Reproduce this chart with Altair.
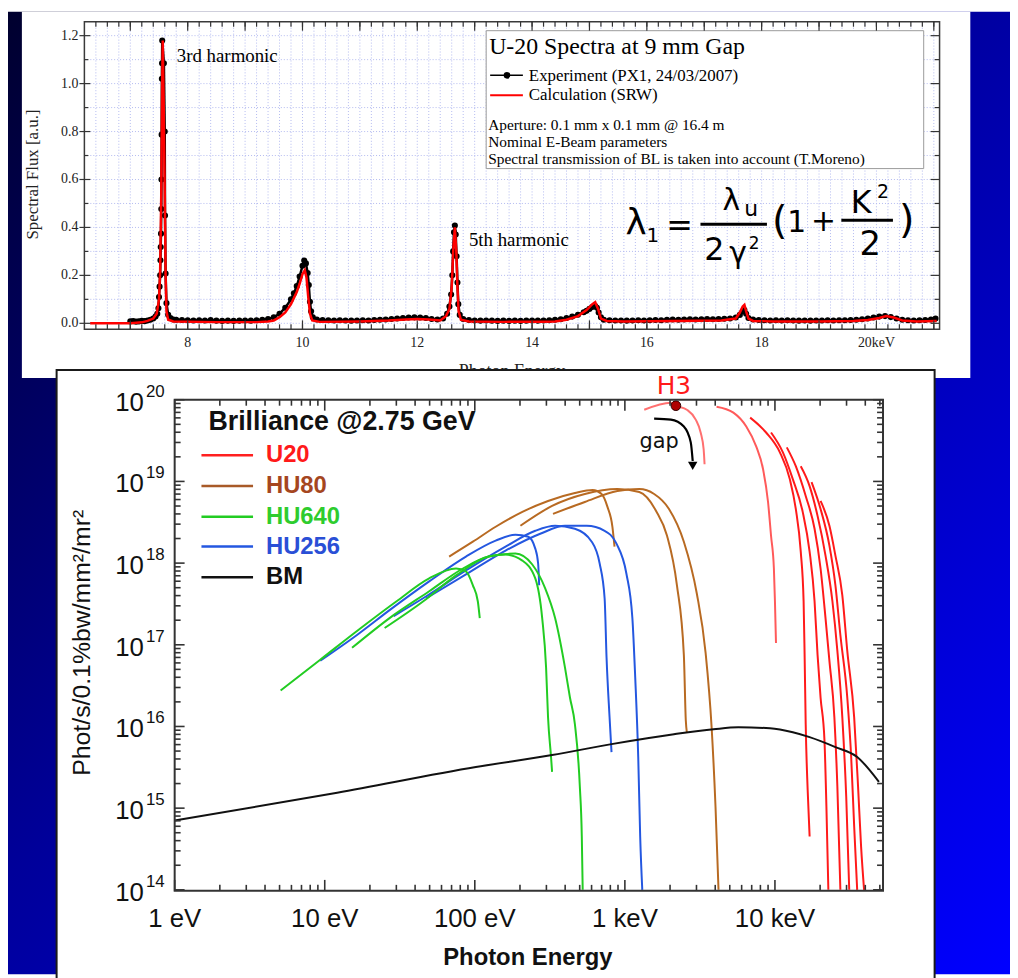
import altair as alt
import pandas as pd

# ------------------------------------------------------------------
# TOP CHART DATA : U-20 spectra at 9 mm gap (photon energy keV, flux a.u.)
# ------------------------------------------------------------------
calc_energy = [6.3, 7.0, 7.2, 7.3, 7.4, 7.46, 7.5, 7.52, 7.54, 7.555,
               7.565, 7.58, 7.6, 7.615, 7.63, 7.66, 7.75, 8.5, 9.2, 9.4,
               9.5, 9.6, 9.7, 9.8, 9.9, 9.95, 10.0, 10.04, 10.07, 10.1,
               10.13, 10.17, 10.3, 11.0, 11.5, 11.8, 12.0, 12.2, 12.4, 12.5,
               12.56, 12.6, 12.63, 12.655, 12.68, 12.7, 12.72, 12.76, 12.9, 13.5,
               14.2, 14.4, 14.6, 14.8, 14.95, 15.05, 15.1, 15.15, 15.2, 15.3,
               15.6, 16.5, 17.3, 17.55, 17.62, 17.67, 17.7, 17.73, 17.77, 17.85,
               18.2, 19.0, 19.6, 19.85, 20.05, 20.17, 20.3, 20.45, 20.7, 21.05]
calc_flux = [0.0, 0.0, 0.004, 0.01, 0.02, 0.04, 0.10, 0.22, 0.55, 1.0,
             1.18, 0.95, 0.55, 0.2, 0.05, 0.015, 0.008, 0.005, 0.005, 0.008,
             0.012, 0.025, 0.045, 0.08, 0.13, 0.165, 0.205, 0.222, 0.19, 0.11,
             0.04, 0.012, 0.006, 0.008, 0.012, 0.016, 0.018, 0.016, 0.012, 0.03,
             0.06, 0.15, 0.32, 0.40, 0.3, 0.15, 0.05, 0.015, 0.008, 0.006,
             0.007, 0.008, 0.015, 0.03, 0.055, 0.08, 0.088, 0.06, 0.02, 0.01,
             0.008, 0.01, 0.012, 0.02, 0.045, 0.07, 0.077, 0.05, 0.02, 0.01,
             0.008, 0.008, 0.01, 0.014, 0.022, 0.03, 0.024, 0.012, 0.008, 0.01]

exp_energy = [7.00, 7.05, 7.10, 7.15, 7.20, 7.25, 7.30, 7.35, 7.40, 7.44,
              7.47, 7.49, 7.50, 7.51, 7.52, 7.525, 7.53, 7.535, 7.54, 7.543,
              7.546, 7.55, 7.553, 7.556, 7.585, 7.60, 7.605, 7.615, 7.63, 7.66,
              7.70, 7.75, 7.8, 7.9, 8.0, 8.1, 8.2, 8.3, 8.4, 8.5,
              8.6, 8.7, 8.8, 8.9, 9.0, 9.1, 9.2, 9.3, 9.4, 9.5,
              9.6, 9.7, 9.8, 9.85, 9.9, 9.95, 10.0, 10.03, 10.06, 10.09,
              10.11, 10.13, 10.15, 10.18, 10.25, 10.35, 10.45, 10.55, 10.65, 10.75,
              10.85, 10.95, 11.05, 11.15, 11.25, 11.35, 11.45, 11.55, 11.65, 11.75,
              11.85, 11.95, 12.05, 12.15, 12.25, 12.35, 12.45, 12.52, 12.56, 12.59,
              12.61, 12.625, 12.64, 12.655, 12.67, 12.685, 12.70, 12.715, 12.74, 12.8,
              12.9, 13.0, 13.1, 13.2, 13.3, 13.4, 13.5, 13.6, 13.7, 13.8,
              13.9, 14.0, 14.1, 14.2, 14.3, 14.4, 14.5, 14.6, 14.7, 14.8,
              14.9, 14.95, 15.0, 15.05, 15.1, 15.13, 15.16, 15.2, 15.25, 15.35,
              15.45, 15.55, 15.65, 15.75, 15.85, 15.95, 16.05, 16.15, 16.25, 16.35,
              16.45, 16.55, 16.65, 16.75, 16.85, 16.95, 17.05, 17.15, 17.25, 17.35,
              17.45, 17.55, 17.62, 17.67, 17.70, 17.73, 17.77, 17.85, 17.95, 18.05,
              18.15, 18.25, 18.35, 18.45, 18.55, 18.65, 18.75, 18.85, 18.95, 19.05,
              19.15, 19.25, 19.35, 19.45, 19.55, 19.65, 19.75, 19.85, 19.95, 20.05,
              20.15, 20.25, 20.35, 20.45, 20.55, 20.65, 20.75, 20.85, 20.95, 21.03]
exp_flux = [0.008, 0.009, 0.007, 0.008, 0.010, 0.009, 0.012, 0.015, 0.020, 0.028,
            0.040, 0.063, 0.110, 0.153, 0.200, 0.263, 0.318, 0.374, 0.477, 0.600,
            0.787, 1.020, 1.085, 1.180, 1.085, 0.800, 0.450, 0.208, 0.084, 0.036,
            0.022, 0.016, 0.015, 0.014, 0.013, 0.012, 0.013, 0.012, 0.014, 0.011,
            0.010, 0.011, 0.010, 0.011, 0.012, 0.011, 0.013, 0.015, 0.018, 0.025,
            0.040, 0.065, 0.100, 0.125, 0.155, 0.195, 0.240, 0.262, 0.250, 0.210,
            0.160, 0.090, 0.050, 0.025, 0.016, 0.014, 0.013, 0.012, 0.013, 0.012,
            0.011, 0.012, 0.013, 0.012, 0.014, 0.015, 0.016, 0.018, 0.020, 0.022,
            0.024, 0.025, 0.024, 0.022, 0.018, 0.016, 0.020, 0.040, 0.070, 0.120,
            0.200, 0.300, 0.380, 0.408, 0.370, 0.280, 0.170, 0.080, 0.035, 0.018,
            0.014, 0.012, 0.011, 0.012, 0.011, 0.010, 0.011, 0.010, 0.011, 0.010,
            0.011, 0.012, 0.011, 0.012, 0.013, 0.015, 0.017, 0.022, 0.028, 0.036,
            0.046, 0.052, 0.060, 0.068, 0.072, 0.065, 0.045, 0.025, 0.015, 0.013,
            0.012, 0.012, 0.011, 0.012, 0.013, 0.012, 0.013, 0.014, 0.013, 0.015,
            0.016, 0.015, 0.016, 0.017, 0.016, 0.017, 0.018, 0.017, 0.018, 0.019,
            0.020, 0.024, 0.035, 0.050, 0.055, 0.040, 0.022, 0.016, 0.014, 0.013,
            0.012, 0.013, 0.012, 0.013, 0.012, 0.011, 0.012, 0.011, 0.012, 0.012,
            0.013, 0.012, 0.013, 0.013, 0.014, 0.015, 0.017, 0.020, 0.024, 0.028,
            0.030, 0.026, 0.020, 0.015, 0.013, 0.012, 0.013, 0.014, 0.016, 0.020]

top_xtick_values = [8, 10, 12, 14, 16, 18, 20]
top_xtick_labels = ["8", "10", "12", "14", "16", "18", "20keV"]
top_ytick_values = [0.0, 0.2, 0.4, 0.6, 0.8, 1.0, 1.2]
top_ytick_labels = ["0.0", "0.2", "0.4", "0.6", "0.8", "1.0", "1.2"]
top_ann_energy = [7.81, 12.90]
top_ann_flux = [1.113, 0.348]
top_ann_text = ["3rd harmonic", "5th harmonic"]

# ------------------------------------------------------------------
# BOTTOM CHART DATA : brilliance curves, (log10 E[eV], log10 brilliance)
# ------------------------------------------------------------------
U20_H3 = [(3.129, 19.878), (3.307, 19.964), (3.340, 19.927), (3.413, 19.878),
          (3.472, 19.757), (3.505, 19.599), (3.525, 19.392), (3.531, 19.210)]
U20_2 = [(3.611, 19.915), (3.723, 19.842), (3.809, 19.672), (3.875, 19.429), (3.921, 19.149),
         (3.954, 18.748), (3.974, 18.335), (3.993, 17.934), (4.000, 17.533), (4.007, 17.023)]
U20_3 = [(3.835, 19.781), (3.941, 19.599), (4.033, 19.356), (4.099, 19.028), (4.139, 18.663),
         (4.172, 18.141), (4.191, 17.533), (4.198, 16.841), (4.205, 16.027), (4.218, 15.225),
         (4.231, 14.654)]
U20_4 = [(3.974, 19.599), (4.053, 19.356), (4.119, 19.028), (4.185, 18.627), (4.231, 18.141),
         (4.264, 17.533), (4.284, 16.877), (4.304, 16.355), (4.330, 15.832), (4.343, 15.018),
         (4.356, 14.0)]
U20_5 = [(4.079, 19.417), (4.139, 19.186), (4.205, 18.821), (4.264, 18.420), (4.304, 17.934),
         (4.337, 17.327), (4.363, 16.804), (4.396, 16.112), (4.416, 15.261), (4.436, 14.0)]
U20_6 = [(4.172, 19.186), (4.231, 18.943), (4.284, 18.578), (4.337, 18.092), (4.383, 17.533),
         (4.416, 16.926), (4.449, 16.112), (4.475, 15.140), (4.495, 14.0)]
U20_7 = [(4.244, 18.991), (4.304, 18.663), (4.363, 18.214), (4.403, 17.728), (4.436, 17.120),
         (4.482, 16.355), (4.508, 15.626), (4.528, 14.775), (4.548, 14.0)]
U20_8 = [(4.304, 18.761), (4.363, 18.457), (4.403, 18.092), (4.449, 17.606), (4.482, 16.926),
         (4.528, 16.112), (4.554, 15.261), (4.574, 14.532), (4.594, 14.0)]

HU80_1 = [(1.829, 18.080), (1.987, 18.262), (2.139, 18.445), (2.317, 18.627), (2.488, 18.761),
          (2.667, 18.858), (2.785, 18.894), (2.845, 18.846), (2.884, 18.688), (2.917, 18.445),
          (2.931, 18.202)]
HU80_2 = [(2.304, 18.457), (2.515, 18.700), (2.733, 18.846), (2.950, 18.906), (3.096, 18.870),
          (3.208, 18.639), (3.281, 18.335), (3.347, 17.728), (3.393, 16.877), (3.406, 16.075),
          (3.413, 15.929)]
HU80_3 = [(2.521, 18.603), (2.733, 18.748), (2.950, 18.882), (3.096, 18.906), (3.195, 18.846),
          (3.294, 18.663), (3.393, 18.262), (3.479, 17.631), (3.538, 16.901), (3.578, 15.990),
          (3.604, 15.018), (3.624, 14.0)]

HU256_A = [(0.970, 16.804), (1.215, 17.120), (1.432, 17.424), (1.696, 17.776), (1.941, 18.080),
           (2.139, 18.275), (2.271, 18.347), (2.356, 18.323), (2.403, 18.177), (2.422, 17.995),
           (2.429, 17.728)]
HU256_B = [(1.459, 17.351), (1.677, 17.594), (1.941, 17.910), (2.205, 18.202), (2.403, 18.396),
           (2.535, 18.457), (2.667, 18.420), (2.779, 18.262), (2.832, 17.995), (2.865, 17.570),
           (2.878, 16.841), (2.898, 16.112), (2.911, 15.686)]
HU256_C = [(1.677, 17.570), (1.941, 17.861), (2.205, 18.153), (2.436, 18.359), (2.601, 18.457),
           (2.746, 18.457), (2.865, 18.396), (2.944, 18.238), (3.010, 17.873), (3.050, 17.327),
           (3.069, 16.598), (3.089, 15.626), (3.102, 14.654), (3.116, 14.0)]

HU640_A = [(0.706, 16.440), (0.970, 16.817), (1.215, 17.169), (1.479, 17.533), (1.696, 17.813),
           (1.875, 17.934), (1.941, 17.898), (1.987, 17.728), (2.020, 17.533), (2.033, 17.327)]
HU640_B = [(1.182, 16.963), (1.432, 17.327), (1.696, 17.655), (1.921, 17.934), (2.092, 18.080),
           (2.205, 18.104), (2.317, 18.031), (2.403, 17.813), (2.449, 17.327), (2.475, 16.720),
           (2.488, 16.112), (2.508, 15.626), (2.515, 15.444)]
HU640_C = [(1.399, 17.205), (1.657, 17.533), (1.875, 17.849), (2.092, 18.080), (2.271, 18.117),
           (2.383, 17.983), (2.469, 17.691), (2.535, 17.327), (2.601, 16.720), (2.634, 16.355),
           (2.667, 16.027), (2.700, 15.261), (2.713, 14.654), (2.719, 14.0)]

BM = [(0.0, 14.848), (1.083, 15.188), (2.007, 15.504), (2.515, 15.650), (2.911, 15.784),
      (3.327, 15.905), (3.591, 15.966), (3.756, 15.990), (3.967, 15.978), (4.119, 15.929),
      (4.231, 15.869), (4.403, 15.747), (4.548, 15.626), (4.693, 15.322)]

H3_point = (3.340, 19.927)
gap_arrow = [(3.195, 19.769), (3.307, 19.757), (3.393, 19.672), (3.439, 19.478), (3.452, 19.250)]
gap_arrow_head = (3.452, 19.190)
gap_label_pos = (3.228, 19.478)
H3_label_pos = (3.327, 20.17)

bottom_x_label_values = [1, 10, 100, 1000, 10000]
bottom_x_labels = ["1 eV", "10 eV", "100 eV", "1 keV", "10 keV"]
bottom_y_exponents = [14, 15, 16, 17, 18, 19, 20]
bottom_y_exp_labels = ["14", "15", "16", "17", "18", "19", "20"]

# ------------------------------------------------------------------
# helpers / layout
# ------------------------------------------------------------------
OX, OY = 8, 8
W, H = 1010, 970
ONE = alt.Data(values=[{"k": 1}])


def sx(x):
    return x - OX


def sy(y):
    return y - OY


def txt(x, y, s, size, color="black", font="Liberation Sans", weight="normal",
        align="center", baseline="middle", angle=None, style="normal"):
    kw = dict(text=s, fontSize=size, color=color, font=font, fontWeight=weight,
              align=align, baseline=baseline, fontStyle=style)
    if angle is not None:
        kw["angle"] = angle
    return alt.Chart(ONE).mark_text(**kw).encode(x=alt.value(sx(x)), y=alt.value(sy(y)))


def box(x0, y0, x1, y1, fill="white", stroke=None, sw=1.0, fill_opacity=1.0):
    kw = dict(fill=fill, fillOpacity=fill_opacity)
    if stroke is not None:
        kw.update(stroke=stroke, strokeWidth=sw)
    return alt.Chart(ONE).mark_rect(**kw).encode(
        x=alt.value(sx(x0)), x2=alt.value(sx(x1)), y=alt.value(sy(y0)), y2=alt.value(sy(y1)))


def seg(x0, y0, x1, y1, color="black", sw=1.0):
    return alt.Chart(ONE).mark_rule(color=color, strokeWidth=sw).encode(
        x=alt.value(sx(x0)), x2=alt.value(sx(x1)), y=alt.value(sy(y0)), y2=alt.value(sy(y1)))


def vticks(values, scale, y0, y1, color="#333333", sw=1.2, dash=None):
    kw = dict(color=color, strokeWidth=sw)
    if dash:
        kw["strokeDash"] = dash
    return alt.Chart(pd.DataFrame({"v": list(values)})).mark_rule(**kw).encode(
        x=alt.X("v:Q", scale=scale, axis=None), y=alt.value(sy(y0)), y2=alt.value(sy(y1)))


def hticks(values, scale, x0, x1, color="#333333", sw=1.2, dash=None):
    kw = dict(color=color, strokeWidth=sw)
    if dash:
        kw["strokeDash"] = dash
    return alt.Chart(pd.DataFrame({"v": list(values)})).mark_rule(**kw).encode(
        y=alt.Y("v:Q", scale=scale, axis=None), x=alt.value(sx(x0)), x2=alt.value(sx(x1)))


# scales (pixel ranges in chart coordinates)
TX = alt.Scale(domain=[6.2, 21.1], range=[sx(85), sx(947)], zero=False, nice=False)
TY = alt.Scale(domain=[-0.025, 1.258], range=[sy(328), sy(18)], zero=False, nice=False)
BX = alt.Scale(type="log", domain=[1, 52500], range=[sx(176), sx(890)], nice=False)
BY = alt.Scale(type="log", domain=[1e14, 1e20], range=[sy(893), sy(399)], nice=False)

layers = []
L = layers.append

# ---------------- slide background ----------------
grad = alt.LinearGradient(
    gradient="linear", x1=0, y1=0, x2=1, y2=1,
    stops=[alt.GradientStop(color="#00002e", offset=0),
           alt.GradientStop(color="#00009a", offset=0.45),
           alt.GradientStop(color="#0000ff", offset=1)])
L(alt.Chart(ONE).mark_rect(fill=grad).encode(
    x=alt.value(0), x2=alt.value(W), y=alt.value(0), y2=alt.value(H)))

# ---------------- top panel ----------------
L(box(22, 8, 978, 377, fill="white"))

grid_x = [round(6.4 + 0.2 * i, 1) for i in range(74)]
grid_y = [round(0.1 * i, 1) for i in range(13)]
L(vticks(grid_x, TX, 18, 328, color="#b3baf0", sw=1, dash=[1, 2]))
L(hticks(grid_y, TY, 85, 947, color="#b3baf0", sw=1, dash=[1, 2]))

# legend box
L(box(490, 27, 931, 166, fill="white", stroke="#9a9a9a", sw=1))
SERIF = "Liberation Serif"
L(txt(493, 43, "U-20 Spectra at 9 mm Gap", 24, font=SERIF, align="left"))
L(seg(494, 72, 527, 72, "black", 1.5))
L(alt.Chart(ONE).mark_circle(color="black", size=45, opacity=1).encode(
    x=alt.value(sx(511)), y=alt.value(sy(72))))
L(txt(533, 73, "Experiment (PX1, 24/03/2007)", 17, font=SERIF, align="left"))
L(seg(494, 92, 527, 92, "#ff0000", 2))
L(txt(533, 92, "Calculation (SRW)", 17, font=SERIF, align="left"))
L(txt(492, 122, "Aperture: 0.1 mm x 0.1 mm @ 16.4 m", 15.5, font=SERIF, align="left"))
L(txt(492, 139, "Nominal E-Beam parameters", 15.5, font=SERIF, align="left"))
L(txt(492, 156, "Spectral transmission of BL is taken into account (T.Moreno)", 15.5,
      font=SERIF, align="left"))

# formula  lambda_1 = lambda_u / (2 gamma^2) (1 + K^2/2)
FF = "DejaVu Sans"
L(txt(641, 221, "λ", 36, font=FF))
L(txt(658, 234, "1", 20, font=FF))
L(txt(685, 224, "=", 32, font=FF))
L(seg(706, 222, 773, 222, "black", 3))
L(txt(737, 199, "λ", 30, font=FF))
L(txt(757, 207, "u", 22, font=FF))
L(txt(720, 248, "2", 32, font=FF))
L(txt(744, 252, "γ", 30, font=FF))
L(txt(760, 242, "2", 17, font=FF))
L(txt(786, 220, "(", 40, font=FF))
L(txt(803, 221, "1", 30, font=FF))
L(txt(830, 220, "+", 30, font=FF))
L(seg(848, 218, 900, 218, "black", 3))
L(txt(868, 201, "K", 32, font=FF))
L(txt(890, 190, "2", 19, font=FF))
L(txt(877, 243, "2", 34, font=FF))
L(txt(914, 219, ")", 40, font=FF))

# data
exp_df = pd.DataFrame({"E": exp_energy, "F": exp_flux})
calc_df = pd.DataFrame({"E": calc_energy, "F": calc_flux})
L(alt.Chart(exp_df).mark_line(color="black", strokeWidth=2.5).encode(
    x=alt.X("E:Q", scale=TX, axis=None), y=alt.Y("F:Q", scale=TY, axis=None)))
L(alt.Chart(exp_df).mark_circle(color="black", size=38, opacity=1).encode(
    x=alt.X("E:Q", scale=TX, axis=None), y=alt.Y("F:Q", scale=TY, axis=None)))
L(alt.Chart(calc_df).mark_line(color="#ff0000", strokeWidth=2.5).encode(
    x=alt.X("E:Q", scale=TX, axis=None), y=alt.Y("F:Q", scale=TY, axis=None)))

ann_df = pd.DataFrame({"E": top_ann_energy, "F": top_ann_flux, "t": top_ann_text})
L(alt.Chart(ann_df).mark_text(font=SERIF, fontSize=19, align="left", baseline="middle",
                              color="black").encode(
    x=alt.X("E:Q", scale=TX, axis=None), y=alt.Y("F:Q", scale=TY, axis=None), text="t:N"))

# frame & ticks
L(box(85, 18, 947, 328, fill="white", fill_opacity=0, stroke="#3a3a3a", sw=1.5))
L(vticks(grid_x, TX, 328, 323))
L(vticks(list(range(7, 22)), TX, 328, 319))
L(vticks(grid_x, TX, 18, 23))
L(vticks(list(range(7, 22)), TX, 18, 27))
minor_y = [0.1, 0.3, 0.5, 0.7, 0.9, 1.1]
L(hticks(top_ytick_values, TY, 80, 91))
L(hticks(minor_y, TY, 85, 89))
L(hticks(top_ytick_values, TY, 938, 947))
L(hticks(minor_y, TY, 942, 947))

ytl = pd.DataFrame({"v": top_ytick_values, "t": top_ytick_labels})
L(alt.Chart(ytl).mark_text(font=SERIF, fontSize=14, align="right", baseline="middle",
                           color="#222").encode(
    x=alt.value(sx(79)), y=alt.Y("v:Q", scale=TY, axis=None), text="t:N"))
xtl = pd.DataFrame({"v": top_xtick_values, "t": top_xtick_labels})
L(alt.Chart(xtl).mark_text(font=SERIF, fontSize=14, align="center", baseline="middle",
                           color="#222").encode(
    x=alt.X("v:Q", scale=TX, axis=None), y=alt.value(sy(342)), text="t:N"))
L(txt(33, 172, "Spectral Flux [a.u.]", 17, font=SERIF, angle=270, color="#222"))
L(txt(516, 362, "Photon Energy", 18, font=SERIF, baseline="top", color="#222"))

# ---------------- bottom panel ----------------
L(box(57, 369, 942, 992, fill="white", stroke="#1a1a1a", sw=2))

curve_specs = [
    ("U20", "#ff7070", U20_H3), ("U20", "#ff5a5a", U20_2), ("U20", "#ff1a1a", U20_3),
    ("U20", "#ff1a1a", U20_4), ("U20", "#ff1a1a", U20_5), ("U20", "#ff1a1a", U20_6),
    ("U20", "#ff1a1a", U20_7), ("U20", "#ff1a1a", U20_8),
    ("HU80", "#b86a22", HU80_1), ("HU80", "#b86a22", HU80_2), ("HU80", "#b86a22", HU80_3),
    ("HU256", "#2457e0", HU256_A), ("HU256", "#2457e0", HU256_B), ("HU256", "#2457e0", HU256_C),
    ("HU640", "#22cc22", HU640_A), ("HU640", "#22cc22", HU640_B), ("HU640", "#22cc22", HU640_C),
]
rows = []
for cid, (name, col, pts) in enumerate(curve_specs):
    for i, (le, lb) in enumerate(pts):
        rows.append({"curve": cid, "name": name, "col": col, "idx": i,
                     "E": 10 ** le, "B": 10 ** lb})
curves_df = pd.DataFrame(rows)
bm_df = pd.DataFrame({"idx": list(range(len(BM))),
                      "E": [10 ** p[0] for p in BM], "B": [10 ** p[1] for p in BM]})

L(alt.Chart(curves_df).mark_line(strokeWidth=2, interpolate="monotone").encode(
    x=alt.X("E:Q", scale=BX, axis=None), y=alt.Y("B:Q", scale=BY, axis=None),
    detail="curve:N", color=alt.Color("col:N", scale=None), order="idx:Q"))
L(alt.Chart(bm_df).mark_line(strokeWidth=2, interpolate="monotone", color="#111111").encode(
    x=alt.X("E:Q", scale=BX, axis=None), y=alt.Y("B:Q", scale=BY, axis=None), order="idx:Q"))

# H3 marker, gap arrow
h3_df = pd.DataFrame({"E": [10 ** H3_point[0]], "B": [10 ** H3_point[1]]})
L(alt.Chart(h3_df).mark_circle(size=95, fill="#b00000", stroke="#300000", strokeWidth=1,
                               opacity=1).encode(
    x=alt.X("E:Q", scale=BX, axis=None), y=alt.Y("B:Q", scale=BY, axis=None)))
arrow_df = pd.DataFrame({"idx": list(range(len(gap_arrow))),
                         "E": [10 ** p[0] for p in gap_arrow], "B": [10 ** p[1] for p in gap_arrow]})
L(alt.Chart(arrow_df).mark_line(color="black", strokeWidth=2.2, interpolate="monotone").encode(
    x=alt.X("E:Q", scale=BX, axis=None), y=alt.Y("B:Q", scale=BY, axis=None), order="idx:Q"))
head_df = pd.DataFrame({"E": [10 ** gap_arrow_head[0]], "B": [10 ** gap_arrow_head[1]]})
L(alt.Chart(head_df).mark_point(shape="triangle-down", filled=True, color="black", size=90,
                                opacity=1).encode(
    x=alt.X("E:Q", scale=BX, axis=None), y=alt.Y("B:Q", scale=BY, axis=None)))
lbl_df = pd.DataFrame({"E": [10 ** gap_label_pos[0], 10 ** H3_label_pos[0]],
                       "B": [10 ** gap_label_pos[1], 10 ** H3_label_pos[1]],
                       "t": ["gap", "H3"], "c": ["#111111", "#ff1a1a"],
                       "s": [21, 25]})
L(alt.Chart(lbl_df).mark_text(font="DejaVu Sans", align="center", baseline="middle").encode(
    x=alt.X("E:Q", scale=BX, axis=None), y=alt.Y("B:Q", scale=BY, axis=None), text="t:N",
    color=alt.Color("c:N", scale=None), size=alt.Size("s:Q", scale=None)))

# frame and ticks
L(box(176, 399, 890, 894, fill="white", fill_opacity=0, stroke="#333333", sw=2))
bx_major = [1, 10, 100, 1000, 10000]
bx_minor = [k * 10 ** n for n in range(0, 5) for k in range(2, 10) if k * 10 ** n <= 52500]
by_major = [10.0 ** e for e in range(14, 21)]
by_minor = [k * 10.0 ** e for e in range(14, 20) for k in range(2, 10)]
L(vticks(bx_major, BX, 894, 883, sw=1.6))
L(vticks(bx_minor, BX, 894, 888, sw=1.6))
L(vticks(bx_major, BX, 399, 410, sw=1.6))
L(vticks(bx_minor, BX, 399, 405, sw=1.6))
L(hticks(by_major, BY, 176, 186, sw=1.6))
L(hticks(by_minor, BY, 176, 182, sw=1.6))
L(hticks(by_major, BY, 880, 890, sw=1.6))
L(hticks(by_minor, BY, 884, 890, sw=1.6))

# tick labels
yl = pd.DataFrame({"B": by_major, "e": bottom_y_exp_labels})
L(alt.Chart(yl).mark_text(font="Liberation Sans", fontSize=26, align="right",
                          baseline="middle", dy=3, color="#111").encode(
    x=alt.value(sx(145)), y=alt.Y("B:Q", scale=BY, axis=None), text=alt.value("10")))
L(alt.Chart(yl).mark_text(font="Liberation Sans", fontSize=17, align="left",
                          baseline="middle", dy=-8, color="#111").encode(
    x=alt.value(sx(147)), y=alt.Y("B:Q", scale=BY, axis=None), text="e:N"))
xl = pd.DataFrame({"E": bottom_x_label_values, "t": bottom_x_labels})
L(alt.Chart(xl).mark_text(font="Liberation Sans", fontSize=26, align="center",
                          baseline="middle", color="#111").encode(
    x=alt.X("E:Q", scale=BX, axis=None), y=alt.value(sy(922)), text="t:N"))
L(txt(532, 962, "Photon Energy", 24, weight="bold", color="#111"))
L(txt(83, 644, "Phot/s/0.1%bw/mm²/mr²", 25, angle=270, color="#111"))

# legend
L(txt(210, 422, "Brilliance @2.75 GeV", 27, weight="bold", align="left", color="#111"))
legend_rows = [("U20", "#ff1a1a", "#ff2020", 455), ("HU80", "#a5461f", "#a85a28", 486),
               ("HU640", "#2ecc2e", "#22cc22", 517), ("HU256", "#2a4fd6", "#2457e0", 547),
               ("BM", "#111111", "#111111", 578)]
for name, tcol, lcol, yy in legend_rows:
    L(seg(203, yy, 255, yy, lcol, 2.5))
    L(txt(268, yy, name, 24, weight="bold", align="left", color=tcol))

chart = alt.layer(*layers).resolve_scale(
    x="independent", y="independent", color="independent", size="independent"
).properties(
    width=W, height=H, autosize=alt.AutoSizeParams(type="none"), padding=0
).configure_view(strokeWidth=0)

chart.save("out.html", embed_options={"renderer": "svg", "actions": False})
